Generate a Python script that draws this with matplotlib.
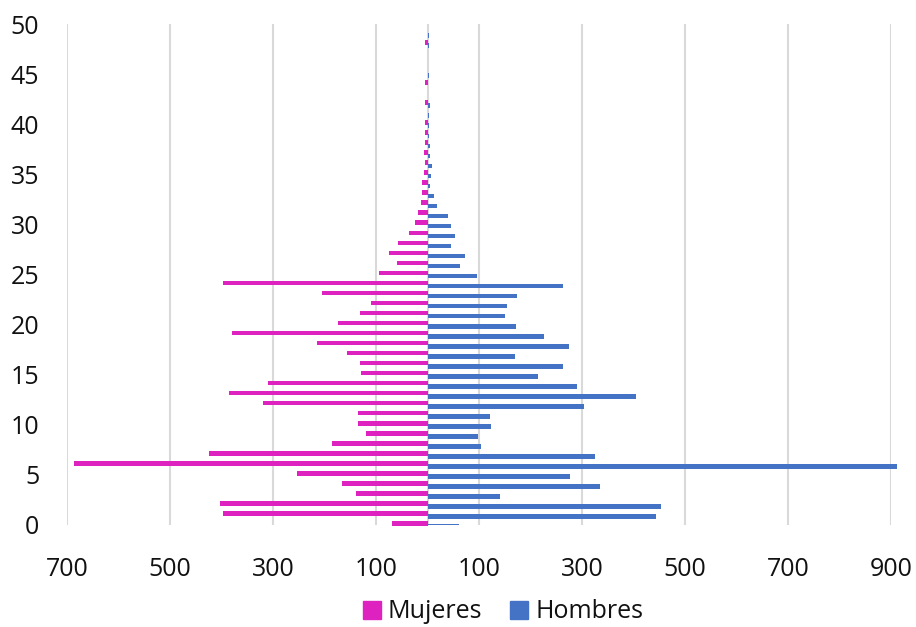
import matplotlib
matplotlib.use("Agg")
import matplotlib.pyplot as plt
from matplotlib.patches import Patch
import numpy as np

plt.rcParams['font.family'] = ['Open Sans', 'DejaVu Sans']

# ages 0..50
edades = list(range(51))

mujeres = [69, 397, 403, 139, 166, 253, 686, 424, 186, 119,
           134, 134, 319, 385, 309, 129, 131, 156, 215, 380,
           173, 132, 110, 205, 397, 95, 60, 74, 58, 35,
           24, 18, 12, 11, 10, 6, 4, 6, 4, 4,
           4, 0, 4, 0, 4, 0, 0, 0, 4, 0, 0]

hombres = [62, 444, 454, 141, 334, 277, 912, 325, 104, 98,
           124, 121, 304, 404, 290, 214, 264, 170, 274, 226,
           172, 150, 154, 174, 264, 96, 64, 72, 46, 54,
           46, 40, 18, 12, 5, 6, 8, 4, 4, 2,
           2, 3, 4, 0, 0, 2, 0, 0, 2, 2, 0]

x_ticks = [-700, -500, -300, -100, 100, 300, 500, 700, 900]
y_ticks = [0, 5, 10, 15, 20, 25, 30, 35, 40, 45, 50]

c_muj = '#DD22C0'
c_hom = '#4472C4'
grid_c = '#D9D9D9'

fig = plt.figure(figsize=(9.16, 6.27), dpi=100)
ax = fig.add_axes([67 / 916, 1 - 525 / 627, (891 - 67) / 916, (525 - 24) / 627])

y = np.array(edades)
bm = ax.barh(y + 0.16, -np.array(mujeres), height=0.46, color=c_muj, zorder=3, clip_on=False)
bh = ax.barh(y - 0.16, hombres, height=0.46, color=c_hom, zorder=3, clip_on=False)
# lowest blue bar is cut by the bottom of the plot like in excel
bh[0].set_clip_on(True)

ax.set_xlim(-700, 900)
ax.set_ylim(0, 50)
ax.set_xticks(x_ticks)
ax.set_xticklabels([str(abs(v)) for v in x_ticks])
ax.set_yticks(y_ticks)

for v in x_ticks:
    ax.axvline(v, color=grid_c, lw=1.5, zorder=1)
ax.axvline(0, color=grid_c, lw=1.5, zorder=2)

for s in ax.spines.values():
    s.set_visible(False)
ax.tick_params(axis='both', length=0, labelsize=18, colors='#111111')
ax.tick_params(axis='x', pad=23)
ax.tick_params(axis='y', pad=20)

handles = [Patch(color=c_muj, label='Mujeres'), Patch(color=c_hom, label='Hombres')]
fig.legend(handles=handles, loc='center', bbox_to_anchor=(503 / 916, 1 - 612 / 627),
           ncol=2, frameon=False, fontsize=18, handlelength=0.7, handleheight=0.7,
           handletextpad=0.3, columnspacing=1.1, labelcolor='#111111')

fig.savefig('out.png', dpi=100)
